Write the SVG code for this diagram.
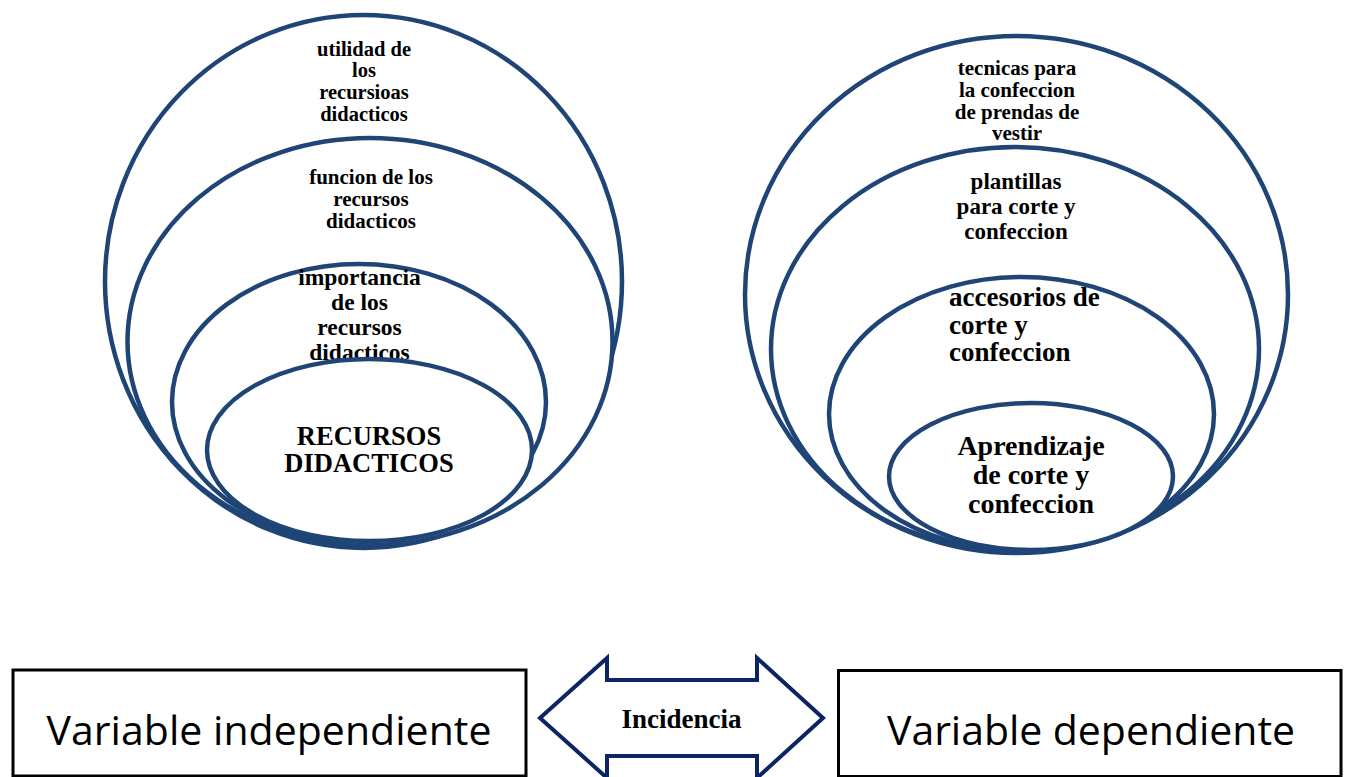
<svg xmlns="http://www.w3.org/2000/svg" width="1348" height="777" viewBox="0 0 1348 777">
<style>
.ring{fill:#ffffff;stroke:#1f4577;stroke-width:4.5}
.t{font-family:"Liberation Serif","Times New Roman",serif;font-weight:bold;fill:#000000}
.c{text-anchor:middle}
.box{fill:#ffffff;stroke:#000000;stroke-width:3}
.bt{font-family:"Open Sans","Noto Sans",sans-serif;font-size:41px;fill:#000000;text-anchor:middle}
.arrow{fill:#ffffff;stroke:#0c2463;stroke-width:4;stroke-linejoin:miter}
</style>
<rect width="1348" height="777" fill="#ffffff"/>

<g id="left-outer">
<ellipse class="ring" cx="363.5" cy="281.5" rx="258.5" ry="266.5"/>
<text class="t c" font-size="20.5"><tspan x="364" y="56">utilidad de</tspan><tspan x="364" y="77">los</tspan><tspan x="364" y="98.5">recursioas</tspan><tspan x="364" y="120.5">didacticos</tspan></text>
</g>
<g id="left-second">
<ellipse class="ring" cx="370" cy="341.5" rx="242.5" ry="203.5"/>
<text class="t c" font-size="21"><tspan x="371" y="184">funcion de los</tspan><tspan x="371" y="205.5">recursos</tspan><tspan x="371" y="227.5">didacticos</tspan></text>
</g>
<g id="left-third">
<ellipse class="ring" cx="359" cy="402" rx="187" ry="138"/>
<text class="t c" font-size="23.5"><tspan x="359.5" y="284.5">importancia</tspan><tspan x="359.5" y="309.5">de los</tspan><tspan x="359.5" y="334.5">recursos</tspan><tspan x="359.5" y="360">didacticos</tspan></text>
</g>
<g id="left-inner">
<ellipse class="ring" cx="369.5" cy="450" rx="162.5" ry="91"/>
<text class="t c" font-size="26.5"><tspan x="369" y="444.5">RECURSOS</tspan><tspan x="369" y="472">DIDACTICOS</tspan></text>
</g>

<g id="right-outer">
<ellipse class="ring" cx="1016.5" cy="294.5" rx="271.5" ry="258.5"/>
<text class="t c" font-size="21"><tspan x="1017" y="75">tecnicas para</tspan><tspan x="1017" y="97">la confeccion</tspan><tspan x="1017" y="118.5">de prendas de</tspan><tspan x="1017" y="140">vestir</tspan></text>
</g>
<g id="right-second">
<ellipse class="ring" cx="1015" cy="349" rx="244" ry="202"/>
<text class="t c" font-size="23"><tspan x="1016" y="188.5">plantillas</tspan><tspan x="1016" y="213.5">para corte y</tspan><tspan x="1016" y="238.5">confeccion</tspan></text>
</g>
<g id="right-third">
<ellipse class="ring" cx="1021.5" cy="414" rx="192.5" ry="137"/>
<text class="t" font-size="27"><tspan x="949" y="305.5">accesorios de</tspan><tspan x="949" y="333.5">corte y</tspan><tspan x="949" y="361">confeccion</tspan></text>
</g>
<g id="right-inner">
<ellipse class="ring" cx="1031" cy="476.5" rx="142" ry="73.5"/>
<text class="t c" font-size="28"><tspan x="1031" y="455">Aprendizaje</tspan><tspan x="1031" y="483.5">de corte y</tspan><tspan x="1031" y="512.5">confeccion</tspan></text>
</g>

<g id="var-independiente">
<rect class="box" x="13" y="670" width="513" height="106"/>
<text class="bt" x="269" y="745" textLength="445" lengthAdjust="spacing">Variable independiente</text>
</g>
<g id="var-dependiente">
<rect class="box" x="838.5" y="670.5" width="502.5" height="106"/>
<text class="bt" x="1091" y="745" textLength="408" lengthAdjust="spacing">Variable dependiente</text>
</g>

<g id="connectors">
<path class="arrow" d="M540,718 L607,658 L607,680 L757,680 L757,658 L823,718 L757,778 L757,756 L607,756 L607,778 Z"/>
<text class="t c" font-size="27" x="681.5" y="727.5">Incidencia</text>
</g>
</svg>
